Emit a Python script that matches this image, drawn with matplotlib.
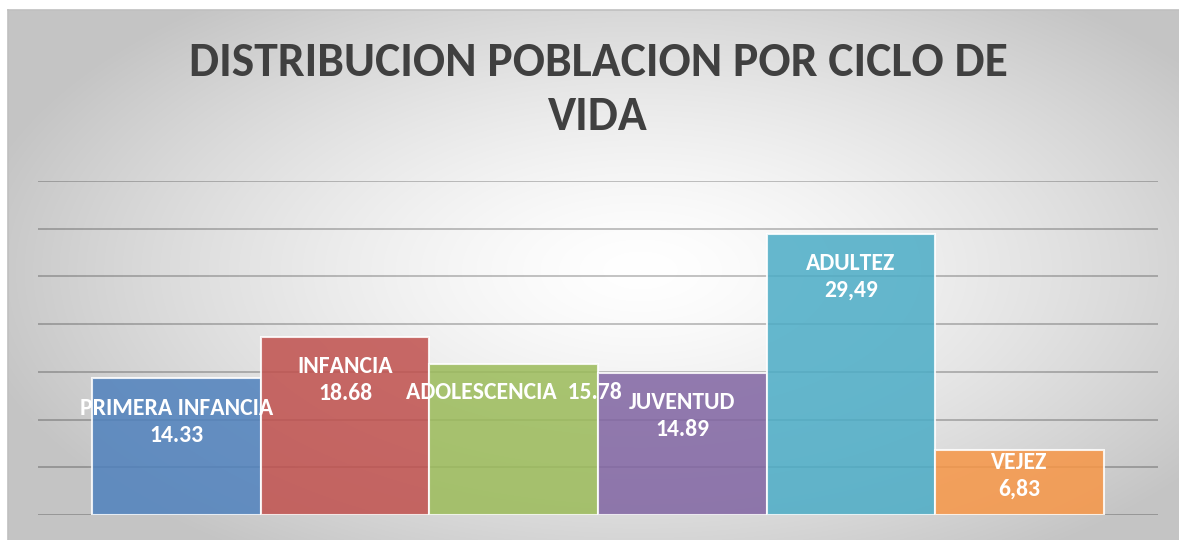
import numpy as np
import matplotlib
matplotlib.use("Agg")
import matplotlib.pyplot as plt
from matplotlib.lines import Line2D

categories = ["PRIMERA INFANCIA", "INFANCIA", "ADOLESCENCIA", "JUVENTUD", "ADULTEZ", "VEJEZ"]
values = [14.33, 18.68, 15.78, 14.89, 29.49, 6.83]
value_labels = ["14.33", "18.68", "15.78", "14.89", "29,49", "6,83"]
colors = ["#4F81BD", "#C0504D", "#9BBB59", "#8064A2", "#4BACC6", "#F79646"]
title = "DISTRIBUCION POBLACION POR CICLO DE\nVIDA"

FONT = ["Carlito", "Lato", "DejaVu Sans"]

W, H, DPI = 1179, 540, 100
fig = plt.figure(figsize=(W / DPI, H / DPI), dpi=DPI)
fig.patch.set_facecolor("white")

# background gradient (chart area)
bg = fig.add_axes([0, 0, 1, 1], zorder=0)
yy, xx = np.mgrid[0:H, 0:W]
cx, cy = 640, 270
r = np.sqrt(((xx - cx) / 650.0) ** 2 + ((yy - cy) / 330.0) ** 2)
v = (255 - 55 * np.clip(r, 0, 1.05) ** 1.4) / 255.0
img = np.dstack([v, v, v])
img[:10, :, :] = 1.0
img[:, :8, :] = 1.0
bg.imshow(img, extent=[0, W, H, 0], aspect="auto", interpolation="bilinear")
bg.set_xlim(0, W)
bg.set_ylim(H, 0)
bg.axis("off")
bg.add_line(Line2D([8, W], [10, 10], color="#c0c0c0", lw=1.2))
bg.add_line(Line2D([8, 8], [10, H], color="#c0c0c0", lw=1.2))

ax = fig.add_axes([38 / W, 25 / H, 1120 / W, 334 / H], zorder=1)
ax.patch.set_alpha(0)
x = np.arange(len(categories))
ax.bar(x, values, width=1.0, color=colors, alpha=0.85,
       edgecolor=(1, 1, 1, 0.55), linewidth=1.5, zorder=3)
ax.set_ylim(0, 35)
ax.set_xlim(-0.5 - 54 / 168.67, len(categories) - 0.5 + 54 / 168.67)
ax.set_yticks(np.arange(0, 36, 5))
ax.yaxis.grid(True, color="black", alpha=0.25, lw=1.3, zorder=4)
ax.set_axisbelow(False)
for s in ax.spines.values():
    s.set_visible(False)
ax.tick_params(left=False, bottom=False, labelleft=False, labelbottom=False)

px = 0.72  # points per pixel at 100 dpi
for i, (cat, val, vl) in enumerate(zip(categories, values, value_labels)):
    if cat == "ADOLESCENCIA":
        txt = cat + "  " + vl
        off = 28
    else:
        txt = cat + "\n" + vl
        off = 26 if val < 10 else 43.5
    ax.annotate(txt, xy=(i, val), xytext=(0, -off * px), textcoords="offset points",
                ha="center", va="center", color="white", fontsize=17,
                fontweight="bold", family=FONT, linespacing=1.36, zorder=6)

fig.text(598 / W, 1 - 90 / H, title, ha="center", va="center", fontsize=34.3,
         fontweight="bold", family=FONT, color="#404040", linespacing=1.38)

fig.savefig("out.png", dpi=DPI)
